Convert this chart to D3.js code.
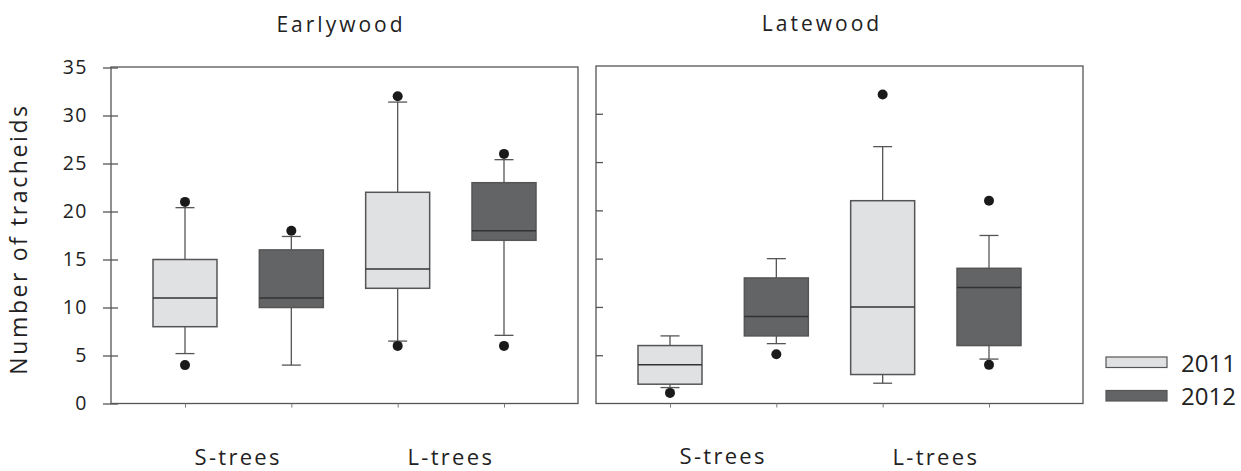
<!DOCTYPE html>
<html>
<head>
<meta charset="utf-8">
<script src="https://cdn.jsdelivr.net/npm/d3@7"></script>
<style>
  body { margin: 0; background: #fff; }
  svg { display: block; }
  text { font-family: "Open Sans", sans-serif; fill: #222; }
</style>
</head>
<body>
<svg id="chart" width="1241" height="471"></svg>
<script>
// ---- data ----
const categories = ["S-trees", "L-trees"];
const years = ["2011", "2012"];
const panels = ["Earlywood", "Latewood"];
const yTicks = [0, 5, 10, 15, 20, 25, 30, 35];

// box order: S-2011, S-2012, L-2011, L-2012
const ewLow  = [5.2, 4.0, 6.5, 7.1];
const ewQ1   = [8, 10, 12, 17];
const ewMed  = [11, 11, 14, 18];
const ewQ3   = [15, 16, 22, 23];
const ewHigh = [20.4, 17.4, 31.4, 25.4];
const ewOut  = [[4, 21], [18], [6, 32], [6, 26]];

const lwLow  = [1.65, 6.2, 2.1, 4.6];
const lwQ1   = [2, 7, 3, 6];
const lwMed  = [4, 9, 10, 12];
const lwQ3   = [6, 13, 21, 14];
const lwHigh = [7, 15, 26.6, 17.4];
const lwOut  = [[1.1], [5.1], [32], [4, 21]];

// ---- build ----
const boxKeys = [];
categories.forEach(c => years.forEach(y => boxKeys.push(c + "|" + y)));
function makeBoxes(low, q1, med, q3, high, out) {
  return boxKeys.map((k, i) => ({
    key: k, cat: k.split("|")[0], year: k.split("|")[1],
    low: low[i], q1: q1[i], med: med[i], q3: q3[i], high: high[i], out: out[i]
  }));
}
const panelData = [
  makeBoxes(ewLow, ewQ1, ewMed, ewQ3, ewHigh, ewOut),
  makeBoxes(lwLow, lwQ1, lwMed, lwQ3, lwHigh, lwOut)
];

const fill = d3.scaleOrdinal().domain(years).range(["#e0e1e3", "#636466"]);
const svg = d3.select("#chart");

const layout = [
  { left: 111, right: 578, top: 67, bottom: 403.5, yTop: 67.5, labelsY: [465, 465], titleX: 341, titleY: 32 },
  { left: 596, right: 1083, top: 66, bottom: 403.5, yTop: 65.5, labelsY: [463.5, 465], titleX: 822, titleY: 31 }
];

const boxW = 64, capW = 19;

panels.forEach((pname, pi) => {
  const L = layout[pi];
  const g = svg.append("g");
  const y = d3.scaleLinear().domain([0, 35]).range([L.bottom, L.yTop]);
  const x = d3.scalePoint().domain(boxKeys).range([L.left + 74, L.left + 74 + 319]);

  // frame
  g.append("rect")
    .attr("x", L.left).attr("y", L.top)
    .attr("width", L.right - L.left).attr("height", L.bottom - L.top)
    .attr("fill", "none").attr("stroke", "#555").attr("stroke-width", 1.3);

  // y ticks
  if (pi === 0) {
    const ax = g.append("g").attr("transform", `translate(${L.left},0)`)
      .call(d3.axisLeft(y).tickValues(yTicks).tickSize(8).tickPadding(15));
    ax.select(".domain").remove();
    ax.selectAll(".tick line").attr("stroke", "#555").attr("stroke-width", 1.3).attr("x2", 7).attr("x1", -8);
    ax.selectAll(".tick text").attr("font-family", "Open Sans").attr("font-size", 19.5)
      .attr("letter-spacing", 1.5).attr("fill", "#222");
  } else {
    const ax = g.append("g").attr("transform", `translate(${L.left},0)`)
      .call(d3.axisRight(y).tickValues(yTicks.filter(v => v > 0 && v < 35)).tickSize(7).tickFormat(""));
    ax.select(".domain").remove();
    ax.selectAll(".tick line").attr("stroke", "#555").attr("stroke-width", 1.3);
  }

  // bottom ticks
  const bx = g.append("g").attr("transform", `translate(0,${L.bottom})`)
    .call(d3.axisBottom(x).tickSize(4).tickFormat(""));
  bx.select(".domain").remove();
  bx.selectAll(".tick line").attr("stroke", "#777").attr("stroke-width", 1);

  const data = panelData[pi];
  const bg = g.selectAll(".box").data(data).join("g").attr("class", "box");

  // whiskers
  bg.append("line")
    .attr("x1", d => x(d.key)).attr("x2", d => x(d.key))
    .attr("y1", d => y(d.high)).attr("y2", d => y(d.q3))
    .attr("stroke", "#555").attr("stroke-width", 1.3);
  bg.append("line")
    .attr("x1", d => x(d.key)).attr("x2", d => x(d.key))
    .attr("y1", d => y(d.q1)).attr("y2", d => y(d.low))
    .attr("stroke", "#555").attr("stroke-width", 1.3);
  bg.append("line")
    .attr("x1", d => x(d.key) - capW / 2).attr("x2", d => x(d.key) + capW / 2)
    .attr("y1", d => y(d.high)).attr("y2", d => y(d.high))
    .attr("stroke", "#555").attr("stroke-width", 1.3);
  bg.append("line")
    .attr("x1", d => x(d.key) - capW / 2).attr("x2", d => x(d.key) + capW / 2)
    .attr("y1", d => y(d.low)).attr("y2", d => y(d.low))
    .attr("stroke", "#555").attr("stroke-width", 1.3);

  // box
  bg.append("rect")
    .attr("x", d => x(d.key) - boxW / 2).attr("width", boxW)
    .attr("y", d => y(d.q3)).attr("height", d => y(d.q1) - y(d.q3))
    .attr("fill", d => fill(d.year)).attr("stroke", "#555").attr("stroke-width", 1.5);
  bg.append("line")
    .attr("x1", d => x(d.key) - boxW / 2).attr("x2", d => x(d.key) + boxW / 2)
    .attr("y1", d => y(d.med)).attr("y2", d => y(d.med))
    .attr("stroke", "#333").attr("stroke-width", 1.5);

  // outliers
  bg.selectAll("circle").data(d => d.out.map(v => ({ key: d.key, v })))
    .join("circle")
    .attr("cx", d => x(d.key)).attr("cy", d => y(d.v)).attr("r", 5)
    .attr("fill", "#1a1a1a");

  // category labels
  categories.forEach((c, ci) => {
    const cx = (x(c + "|" + years[0]) + x(c + "|" + years[1])) / 2;
    g.append("text").attr("x", cx).attr("y", L.labelsY[ci])
      .attr("text-anchor", "middle").attr("font-size", 22).attr("letter-spacing", 2.3)
      .text(c);
  });

  // title
  g.append("text").attr("x", L.titleX).attr("y", L.titleY)
    .attr("text-anchor", "middle").attr("font-size", 21).attr("letter-spacing", 3)
    .text(pname);
});

// y-axis title
svg.append("text")
  .attr("transform", "translate(27,239) rotate(-90)")
  .attr("text-anchor", "middle").attr("font-size", 23).attr("letter-spacing", 2.6)
  .text("Number of tracheids");

// legend
const lg = svg.append("g");
years.forEach((yr, i) => {
  const yy = 357 + i * 33.5;
  lg.append("rect").attr("x", 1106).attr("y", yy).attr("width", 61).attr("height", 10.5)
    .attr("fill", fill(yr)).attr("stroke", "#555").attr("stroke-width", 1.2);
  lg.append("text").attr("x", 1181).attr("y", yy + 14.5)
    .attr("font-family", "Liberation Sans, Arial, sans-serif").attr("font-size", 24)
    .attr("fill", "#222").text(yr);
});
</script>
</body>
</html>
